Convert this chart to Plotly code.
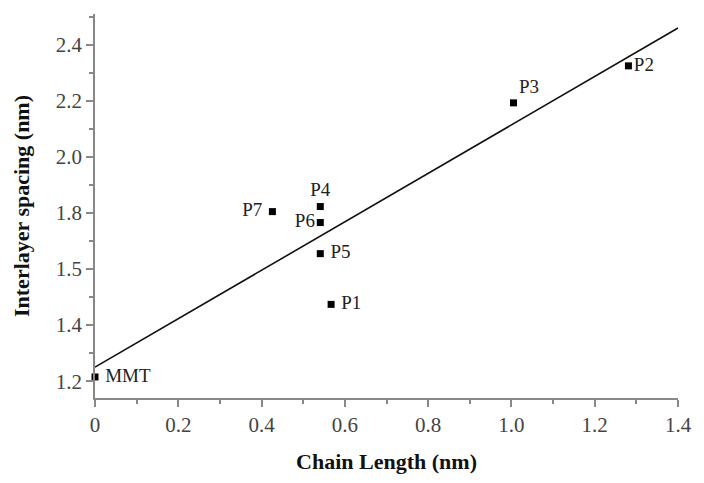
import plotly.graph_objects as go

names = ["MMT", "P1", "P2", "P3", "P4", "P5", "P6", "P7"]
chain_length = [0.0, 0.567, 1.281, 1.005, 0.541, 0.541, 0.541, 0.426]
spacing = [1.215, 1.474, 2.325, 2.193, 1.823, 1.655, 1.766, 1.805]
label_pos = ["middle right", "middle right", "middle right", "top right",
             "top center", "middle right", "middle left", "middle left"]
label_text = [" MMT", " P1", "P2", "P3", "P4", " P5", "P6", "P7 "]

fit_x = [0.0, 1.4]
fit_y = [1.25, 2.46]

y_tickvals = [1.2, 1.4, 1.6, 1.8, 2.0, 2.2, 2.4]
y_ticktext = ["1.2", "1.4", "1.5", "1.8", "2.0", "2.2", "2.4"]
x_tickvals = [0, 0.2, 0.4, 0.6, 0.8, 1.0, 1.2, 1.4]
x_ticktext = ["0", "0.2", "0.4", "0.6", "0.8", "1.0", "1.2", "1.4"]

fig = go.Figure()
fig.add_trace(go.Scatter(x=fit_x, y=fit_y, mode="lines",
                         line=dict(color="#111", width=1.6), showlegend=False))
fig.add_trace(go.Scatter(x=chain_length, y=spacing, mode="markers+text",
                         marker=dict(symbol="square", size=7, color="#000"),
                         text=label_text, textposition=label_pos,
                         textfont=dict(family="Liberation Serif", size=19, color="#222"),
                         showlegend=False, cliponaxis=False))

axis_common = dict(showline=True, linecolor="#888", linewidth=1.5,
                   ticks="outside", ticklen=7, tickcolor="#888", tickwidth=1.5,
                   showgrid=False, zeroline=False,
                   tickfont=dict(family="Liberation Serif", size=21, color="#444"),
                   minor=dict(ticks="outside", ticklen=4, tickcolor="#888", dtick=0.1, tick0=0))

fig.update_xaxes(range=[0, 1.4], tickvals=x_tickvals, ticktext=x_ticktext,
                 title=dict(text="<b>Chain Length (nm)</b>", standoff=18,
                            font=dict(family="Liberation Serif", size=22, color="#111")),
                 **axis_common)
fig.update_yaxes(range=[1.14, 2.51], tickvals=y_tickvals, ticktext=y_ticktext,
                 title=dict(text="<b>Interlayer spacing (nm)</b>", standoff=20,
                            font=dict(family="Liberation Serif", size=22, color="#111")),
                 **axis_common)

fig.update_layout(width=704, height=483, margin=dict(l=95, r=17, t=14, b=85),
                  plot_bgcolor="white", paper_bgcolor="white")
fig.write_html("out.html")
